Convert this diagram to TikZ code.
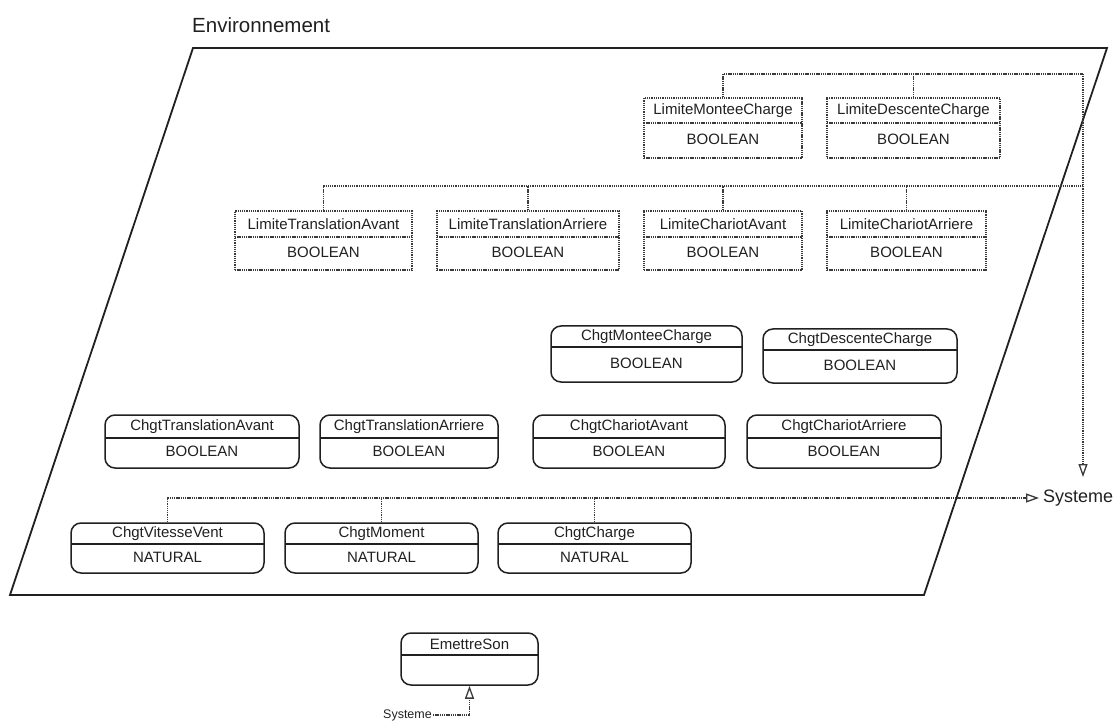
\documentclass[tikz,border=0pt]{standalone}
\usepackage{fontspec}
\setmainfont{Liberation Sans}
\usetikzlibrary{arrows.meta,fit,calc}

\definecolor{ink}{HTML}{202020}
\definecolor{dotink}{HTML}{3A3A3A}

\tikzset{
  frame/.style={draw=ink, line width=1.8pt, line join=miter},
  dotline/.style={draw=dotink, line width=1.3pt, dash pattern=on 1.3pt off 0.9pt},
  limbox/.style={dotline, inner sep=0pt},
  chgtbox/.style={draw=ink, line width=1.5pt, rounded corners=10pt, inner sep=0pt},
  divline/.style={draw=ink, line width=1.2pt},
  boxtext/.style={text=ink, font=\fontsize{15}{17}\selectfont, inner sep=0pt},
  opentip/.style={-{Triangle[open, length=13pt, width=9pt, line width=1.3pt]}},
  label/.style={text=ink, inner sep=0pt},
}

% dotted data box: name, x1, y1, x2, y2, divider y, title, type
\newcommand\limitebox[8]{%
  \node[limbox, fit={(#2,#3) (#4,#5)}] (#1) {};
  \draw[dotline] (#2,#6) -- (#4,#6);
  \node[boxtext] (#1-n) at ({(#2+#4)/2},{(#3+#6)/2}) {#7};
  \node[boxtext] (#1-t) at ({(#2+#4)/2},{(#6+#5)/2-1.5}) {#8};
}
% rounded event box: name, x1, y1, x2, y2, divider y, title, type
\newcommand\eventbox[8]{%
  \node[chgtbox, fit={(#2,#3) (#4,#5)}] (#1) {};
  \draw[divline] (#2,#6) -- (#4,#6);
  \node[boxtext] (#1-n) at ({(#2+#4)/2},{(#3+#6)/2}) {#7};
  \node[boxtext] (#1-t) at ({(#2+#4)/2},{(#6+#5)/2-1.5}) {#8};
}

\begin{document}
\begin{tikzpicture}[x=1pt, y=-1pt]
\useasboundingbox (0,0) rectangle (1120,722);

% environment frame
\node[label, anchor=base west, font=\fontsize{20.5}{24}\selectfont] (env) at (192,33) {Environnement};
\draw[frame] (193,48) -- (1107,48) -- (924,595) -- (10,595) -- cycle;

% limit signals
\limitebox{lmc}{644}{98}{802}{158}{123}{LimiteMonteeCharge}{BOOLEAN}
\limitebox{ldc}{827}{98}{1000}{158}{123}{LimiteDescenteCharge}{BOOLEAN}
\limitebox{lta}{235}{211}{412}{270}{237}{LimiteTranslationAvant}{BOOLEAN}
\limitebox{ltr}{437}{211}{619}{270}{237}{LimiteTranslationArriere}{BOOLEAN}
\limitebox{lca}{644}{211}{802}{270}{237}{LimiteChariotAvant}{BOOLEAN}
\limitebox{lcr}{827}{211}{986}{270}{237}{LimiteChariotArriere}{BOOLEAN}

% change events
\eventbox{cmc}{551}{326}{742}{382}{347}{ChgtMonteeCharge}{BOOLEAN}
\eventbox{cdc}{763}{329}{957}{383}{350}{ChgtDescenteCharge}{BOOLEAN}
\eventbox{cta}{105}{415}{299}{468}{438}{ChgtTranslationAvant}{BOOLEAN}
\eventbox{ctr}{320}{415}{498}{468}{438}{ChgtTranslationArriere}{BOOLEAN}
\eventbox{cca}{533}{415}{725}{468}{438}{ChgtChariotAvant}{BOOLEAN}
\eventbox{ccr}{747}{415}{941}{468}{438}{ChgtChariotArriere}{BOOLEAN}
\eventbox{cvv}{71}{523}{264}{573}{544}{ChgtVitesseVent}{NATURAL}
\eventbox{cmo}{285}{523}{478}{573}{544}{ChgtMoment}{NATURAL}
\eventbox{cch}{498}{523}{691}{573}{544}{ChgtCharge}{NATURAL}

% output event
\eventbox{es}{401}{633}{538}{685}{655}{EmettreSon}{}

% system targets
\node[label, anchor=west, inner sep=4pt, font=\fontsize{18}{21}\selectfont] (sys) at (1039,498) {Systeme};
\coordinate (sysv) at (1083,477);
\node[label, anchor=east, inner sep=1pt, font=\fontsize{12.5}{15}\selectfont] (sysb) at (433,715) {Systeme};

% buses
\coordinate (bus1) at (1083,74);
\coordinate (bus2) at (1083,186);
\draw[dotline] (lmc.north) |- (bus1);
\draw[dotline] (ldc.north) -- (ldc.north |- bus1);
\draw[dotline, opentip] (bus1) -- (sysv);

\draw[dotline] (lta.north) |- (bus2);
\draw[dotline] (ltr.north) -- (ltr.north |- bus2);
\draw[dotline] (lca.north) -- (lca.north |- bus2);
\draw[dotline] (lcr.north) -- (lcr.north |- bus2);

\draw[dotline, opentip] (cvv.north) |- (sys.west);
\draw[dotline] (cmo.north) -- (cmo.north |- sys.west);
\draw[dotline] (cch.north) -- (cch.north |- sys.west);

\draw[dotline, opentip] (sysb.east) -| (es.south);
\end{tikzpicture}
\end{document}
